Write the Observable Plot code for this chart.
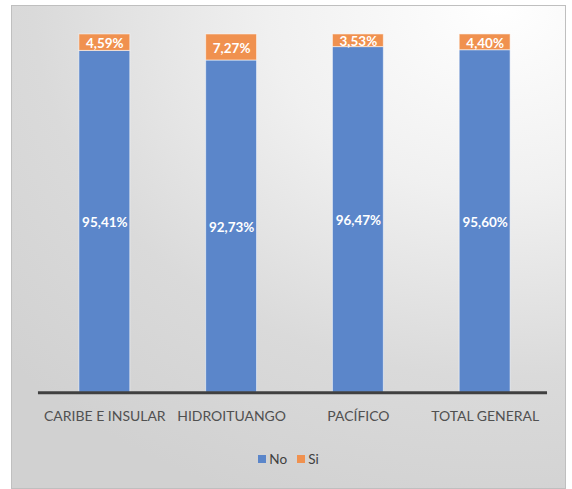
<!DOCTYPE html>
<html>
<head>
<meta charset="utf-8">
<script src="https://cdn.jsdelivr.net/npm/d3@7"></script>
<script src="https://cdn.jsdelivr.net/npm/@observablehq/plot@0.6"></script>
<style>
  html, body { margin: 0; padding: 0; background: #ffffff; }
  #frame {
    position: absolute; left: 11px; top: 5px; width: 555px; height: 484px;
    box-sizing: border-box; border: 1px solid #bfbfbf;
    background: radial-gradient(ellipse 120% 110% at 88% 0%, #ffffff 0%, #f0f0f0 35%, #dadada 70%, #d1d1d1 100%);
    font-family: Lato, "Open Sans", sans-serif;
  }
  #legend {
    position: absolute; left: 0; right: 0; top: 444px; text-align: center;
    font-size: 13.5px; color: #404040;
  }
  #legend .item { display: inline-flex; align-items: center; margin: 0 5px; }
  #legend .sw { width: 8px; height: 8px; display: inline-block; margin-right: 3px; }
</style>
</head>
<body>
<div id="frame"><div id="chart"></div><div id="legend"></div></div>
<script>
const categories = ["CARIBE E INSULAR", "HIDROITUANGO", "PACÍFICO", "TOTAL GENERAL"];
const noValues = [95.41, 92.73, 96.47, 95.60];
const siValues = [4.59, 7.27, 3.53, 4.40];
const seriesNames = ["No", "Si"];
const seriesColors = ["#5B86CA", "#F0914F"];

const data = categories.flatMap((c, i) => [
  {cat: c, series: "No", value: noValues[i]},
  {cat: c, series: "Si", value: siValues[i]}
]);
const fmt = v => v.toFixed(2).replace(".", ",") + "%";

const chart = Plot.plot({
  width: 554, height: 430,
  marginLeft: 26, marginRight: 18, marginTop: 28, marginBottom: 43,
  style: {background: "transparent", fontFamily: "Lato, 'Open Sans', sans-serif", fontSize: "14px", color: "#505050"},
  x: {domain: categories, range: [28.5, 536.5], paddingInner: 0.6, paddingOuter: 0.3, label: null, tickSize: 0, tickPadding: 18},
  y: {domain: [0, 100], axis: null},
  color: {domain: seriesNames, range: seriesColors},
  marks: [
    Plot.barY(data, {x: "cat", y: "value", fill: "series", stroke: "rgba(255,255,255,0.55)", strokeWidth: 1}),
    Plot.text(data, Plot.stackY({x: "cat", y: "value", text: d => fmt(d.value), fill: "white", fontWeight: "bold", fontSize: 13.5, dy: 1})),
    Plot.ruleY([0], {stroke: "#404040", strokeWidth: 3})
  ]
});
document.getElementById("chart").appendChild(chart);

const legend = document.getElementById("legend");
seriesNames.forEach((s, i) => {
  const item = document.createElement("span");
  item.className = "item";
  const sw = document.createElement("span");
  sw.className = "sw";
  sw.style.background = seriesColors[i];
  item.appendChild(sw);
  item.appendChild(document.createTextNode(s));
  legend.appendChild(item);
});
</script>
</body>
</html>
